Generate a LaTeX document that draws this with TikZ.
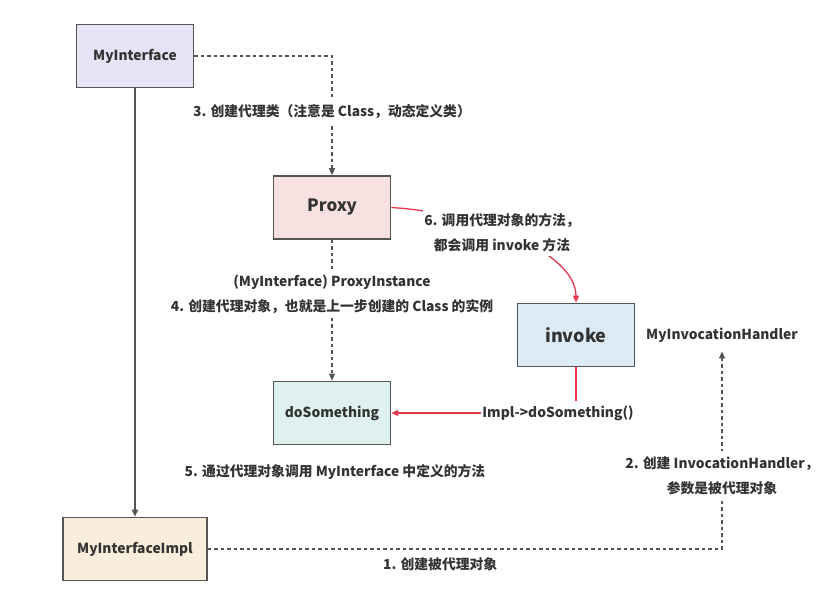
\documentclass[tikz,border=0pt]{standalone}
\usepackage{fontspec}
\setmainfont{Noto Sans CJK SC}
\usetikzlibrary{arrows.meta}
\definecolor{ink}{HTML}{333333}
\definecolor{edge}{HTML}{555555}
\definecolor{callred}{HTML}{E03A4E}
\definecolor{lavender}{HTML}{E7E2F6}
\definecolor{pinkish}{HTML}{F8E1E1}
\definecolor{skyish}{HTML}{DCEBF6}
\definecolor{mintish}{HTML}{DEF1EF}
\definecolor{creamish}{HTML}{F8EEDB}
\tikzset{
    box/.style={draw=edge, line width=1.6pt, minimum width=117pt, minimum height=63pt, inner sep=0pt},
    tip/.style={-{Triangle[length=7pt,width=6pt]}},
    dashline/.style={draw=edge, line width=1.3pt, dash pattern=on 3.5pt off 3pt, tip},
    solidline/.style={draw=edge, line width=1.6pt, tip},
    redline/.style={draw=callred, line width=1.3pt, tip},
    lbl/.style={fill=white, inner xsep=1pt, inner ysep=5pt, align=center}
}
\begin{document}
\begin{tikzpicture}[x=1pt, y=-1pt, text=ink, font=\bfseries\fontsize{13.8}{25}\selectfont]
    \useasboundingbox[fill=white] (0,0) rectangle (837,612);

    \node[box, fill=lavender] (myif) at (135,56) {MyInterface};
    \node[box, fill=pinkish, font=\bfseries\fontsize{17}{19}\selectfont] (proxy) at (332,207.5) {Proxy};
    \node[box, fill=skyish, font=\bfseries\fontsize{18}{20}\selectfont] (invoke) at (576,335) {invoke};
    \node[box, fill=mintish] (dosth) at (332,413) {doSomething};
    \node[box, fill=creamish, minimum width=144pt] (impl) at (135,549) {MyInterfaceImpl};
    \node[inner sep=2pt] (handler) at (722,335) {MyInvocationHandler};
    \node (note5) at (335,472) {5. 通过代理对象调用 MyInterface 中定义的方法};

    \draw[dashline] (impl.east) -| (handler.south) [shorten >=7pt]
        node[pos=.226, below=5pt] {1. 创建被代理对象}
        node[pos=.68, lbl] {2. 创建 InvocationHandler，\\参数是被代理对象};
    \draw[dashline] (myif.east) -| (proxy.north)
        node[pos=.735, lbl] {3. 创建代理类（注意是 Class，动态定义类）};
    \draw[dashline] (proxy.south) -- (dosth.north)
        node[pos=.385, lbl] {(MyInterface) ProxyInstance\\4. 创建代理对象，也就是上一步创建的 Class 的实例};
    \draw[solidline] (myif.south) -- (impl.north);
    \draw[redline] (proxy.east) .. controls (470,212) and (576,250) .. (invoke.north)
        node[pos=.45, lbl] {6. 调用代理对象的方法，\\都会调用 invoke 方法};
    \draw[redline] (invoke.south) |- (dosth.east)
        node[pos=.5, lbl, xshift=-18pt] {Impl->doSomething()};
\end{tikzpicture}
\end{document}
